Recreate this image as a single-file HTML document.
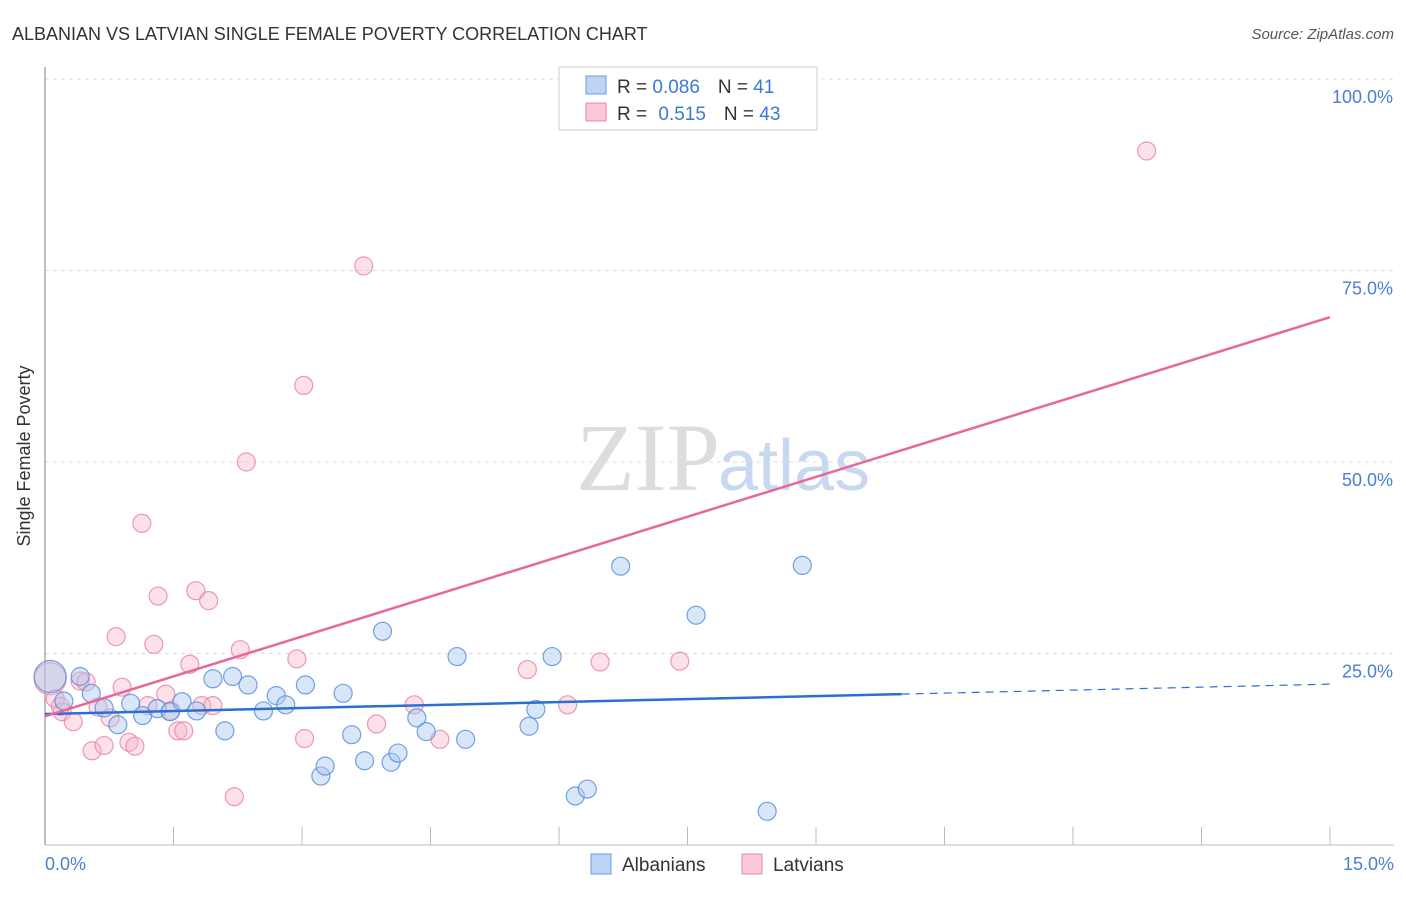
<!DOCTYPE html>
<html><head><meta charset="utf-8"><style>
body{margin:0;background:#fff;font-family:"Liberation Sans",sans-serif;}
</style></head><body>
<svg width="1406" height="892" xmlns="http://www.w3.org/2000/svg">
<text x="12" y="40" font-size="18" fill="#333">ALBANIAN VS LATVIAN SINGLE FEMALE POVERTY CORRELATION CHART</text>
<text x="1394" y="39" font-size="15" fill="#555" font-style="italic" text-anchor="end">Source: ZipAtlas.com</text>
<g id="grid"></g>
<g id="ticks"></g>
<line x1="45" y1="67" x2="45" y2="845" stroke="#aaa" stroke-width="1.5"/>
<line x1="45" y1="845" x2="1394" y2="845" stroke="#bbb"/>
<text x="30" y="456" font-size="18" fill="#333" text-anchor="middle" transform="rotate(-90 30 456)">Single Female Poverty</text>
<text x="45" y="870" font-size="18" fill="#4a7fd4">0.0%</text>
<text x="1394" y="870" font-size="18" fill="#4a7fd4" text-anchor="end">15.0%</text>
<text x="720" y="490" font-size="96" fill="#ddd" text-anchor="end" font-family="Liberation Serif,serif">ZIP</text>
<text x="718" y="490" font-size="72" fill="#c8d8f0">atlas</text>
<g id="pts"></g>
<g id="lines"></g>
<rect x="559" y="67" width="258" height="63" fill="#fff" stroke="#ccc"/>
<rect x="586" y="76" width="20" height="18" fill="#bcd4f5" stroke="#6a9be0"/>
<rect x="586" y="103" width="20" height="18" fill="#fac8d8" stroke="#e88aa8"/>
<text x="617" y="93" font-size="19" fill="#333">R = <tspan fill="#3b78d8">0.086</tspan><tspan dx="18">N = </tspan><tspan fill="#3b78d8">41</tspan></text>
<text x="617" y="120" font-size="19" fill="#333">R = <tspan fill="#3b78d8" dx="6">0.515</tspan><tspan dx="18">N = </tspan><tspan fill="#3b78d8">43</tspan></text>
<rect x="591" y="854" width="20" height="20" fill="#bcd4f5" stroke="#6a9be0"/>
<text x="622" y="871" font-size="19" fill="#333">Albanians</text>
<rect x="742" y="854" width="20" height="20" fill="#fac8d8" stroke="#e88aa8"/>
<text x="773" y="871" font-size="19" fill="#333">Latvians</text>
</svg>
<script>
const yTicks=[25,50,75,100];
const yTickLabels=["25.0%","50.0%","75.0%","100.0%"];
const xTicks=[1.5,3,4.5,6,7.5,9,10.5,12,13.5,15];
const blueX=[0.06,0.22,0.41,0.54,0.69,0.85,1.0,1.14,1.31,1.46,1.6,1.77,1.96,2.1,2.19,2.37,2.55,2.7,2.81,3.04,3.22,3.27,3.48,3.58,3.73,3.94,4.04,4.12,4.34,4.45,4.81,4.91,5.65,5.73,5.92,6.19,6.33,6.72,7.6,8.43,8.84];
const blueY=[22,18.8,22,19.8,17.9,15.7,18.5,16.9,17.8,17.4,18.7,17.5,21.7,14.9,22,20.9,17.5,19.5,18.3,20.9,9,10.3,19.8,14.4,11,27.9,10.8,12,16.6,14.8,24.6,13.8,15.5,17.7,24.6,6.4,7.3,36.4,30,4.4,36.5];
const blueSize=[16,9,9,9,9,9,9,9,9,9,9,9,9,9,9,9,9,9,9,9,9,9,9,9,9,9,9,9,9,9,9,9,9,9,9,9,9,9,9,9,9];
const pinkX=[0.06,0.12,0.2,0.33,0.41,0.48,0.55,0.62,0.69,0.76,0.83,0.9,0.98,1.05,1.13,1.2,1.27,1.32,1.41,1.47,1.55,1.62,1.69,1.76,1.83,1.91,1.96,2.21,2.28,2.35,2.94,3.02,3.03,3.72,3.87,4.31,4.61,5.63,6.1,6.48,7.41,12.86,0.18];
const pinkY=[21.7,19.1,17.4,16.1,21.4,21.3,12.3,18,13,16.6,27.2,20.6,13.4,12.9,42,18.2,26.2,32.5,19.7,17.5,14.9,14.9,23.6,33.2,18.2,31.9,18.2,6.3,25.5,50,24.3,60,13.9,75.6,15.8,18.3,13.8,22.9,18.3,23.9,24,90.6,18.1];
const pinkSize=[16,9,9,9,9,9,9,9,9,9,9,9,9,9,9,9,9,9,9,9,9,9,9,9,9,9,9,9,9,9,9,9,9,9,9,9,9,9,9,9,9,9,9];
const blueTrend=[17.1,21.0];
const pinkTrend=[16.8,68.9];
const blueSolidEnd=10.0;
const NS="http://www.w3.org/2000/svg";
const sx=v=>45+v/15*1285;
const sy=v=>845-v/100*766;
const grid=document.getElementById('grid');
yTicks.forEach((t,i)=>{
 const l=document.createElementNS(NS,'line');
 l.setAttribute('x1',45);l.setAttribute('x2',1394);l.setAttribute('y1',sy(t));l.setAttribute('y2',sy(t));
 l.setAttribute('stroke','#ddd');l.setAttribute('stroke-dasharray','4,4');
 
 
 grid.appendChild(l);
 const tx=document.createElementNS(NS,'text');
 tx.setAttribute('x',1393);tx.setAttribute('y',sy(t)+24);tx.setAttribute('text-anchor','end');
 tx.setAttribute('font-size','18');tx.setAttribute('fill','#4a7fd4');tx.textContent=yTickLabels[i];
 
 
 grid.appendChild(tx);
});
const ticks=document.getElementById('ticks');
xTicks.forEach(t=>{
 const l=document.createElementNS(NS,'line');
 l.setAttribute('x1',sx(t));l.setAttribute('x2',sx(t));l.setAttribute('y1',827);l.setAttribute('y2',845);
 l.setAttribute('stroke','#bbb');
 
 
 ticks.appendChild(l);
});
const pts=document.getElementById('pts');
function dots(xs,ys,ss,fill,stroke,name){
 xs.forEach((x,i)=>{
  const c=document.createElementNS(NS,'circle');
  c.setAttribute('cx',sx(x));c.setAttribute('cy',sy(ys[i]));c.setAttribute('r',ss[i]);
  c.setAttribute('fill',fill);c.setAttribute('stroke',stroke);c.setAttribute('stroke-width','1.2');
  
  
  pts.appendChild(c);
 });
}
dots(pinkX,pinkY,pinkSize,'rgba(248,180,200,0.4)','rgba(230,130,165,0.8)','latvian-point');
dots(blueX,blueY,blueSize,'rgba(170,200,240,0.45)','rgba(80,140,220,0.8)','albanian-point');
const lines=document.getElementById('lines');
function line(x1,y1,x2,y2,col,dash,name){
 const l=document.createElementNS(NS,'line');
 l.setAttribute('x1',sx(x1));l.setAttribute('y1',sy(y1));l.setAttribute('x2',sx(x2));l.setAttribute('y2',sy(y2));
 l.setAttribute('stroke',col);l.setAttribute('stroke-width',dash?1.2:2.5);
 if(dash)l.setAttribute('stroke-dasharray','8,6');
 
 
 lines.appendChild(l);
}
const bAt=x=>blueTrend[0]+(blueTrend[1]-blueTrend[0])*x/15;
line(0,blueTrend[0],blueSolidEnd,bAt(blueSolidEnd),'#2a6fd6',false,'albanian-trend-line');
line(blueSolidEnd,bAt(blueSolidEnd),15,blueTrend[1],'#2a6fd6',true,'albanian-trend-extension');
line(0,pinkTrend[0],15,pinkTrend[1],'#e8679a',false,'latvian-trend-line');
</script>
</body></html>
